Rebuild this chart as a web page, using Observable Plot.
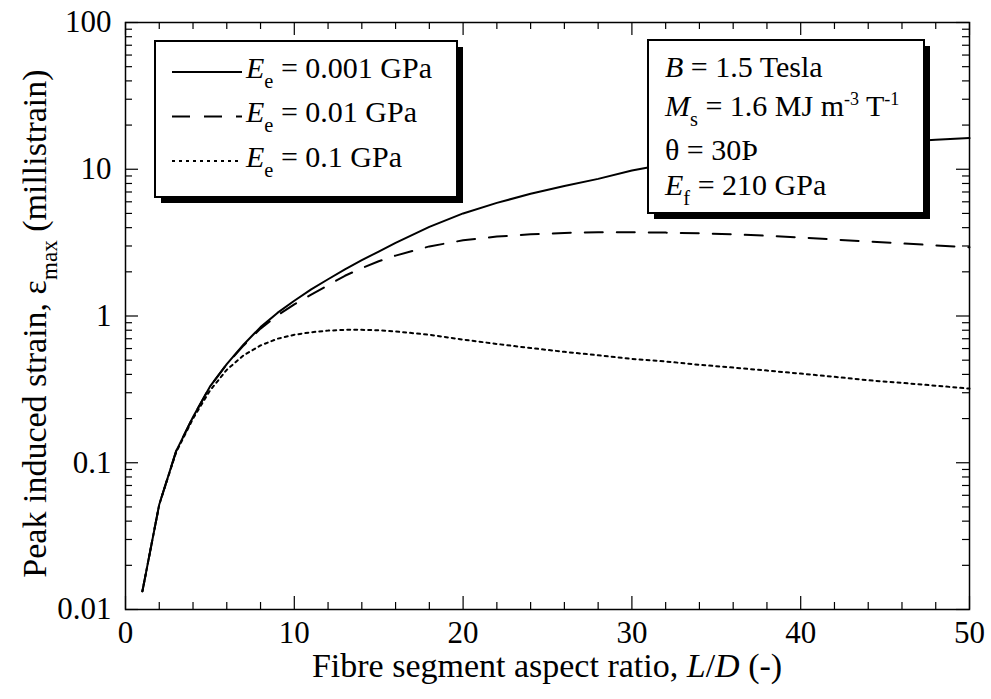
<!DOCTYPE html>
<html><head><meta charset="utf-8">
<script src="https://cdn.jsdelivr.net/npm/d3@7"></script>
<script src="https://cdn.jsdelivr.net/npm/@observablehq/plot@0.6"></script>
<style>
body{margin:0;background:#fff}
svg text, svg tspan { font-family: 'Liberation Serif' !important; }
</style>
</head><body><div id="chart"></div>
<script>
// ---- data ----
const aspectRatio = [1,2,3,4,5,6,7,8,9,10,11,12,13,14,15,16,18,20,22,24,26,28,30,32,34,36,38,40,42,44,46,48,50];
const strainEe0001 = [0.0133,0.052,0.12,0.205,0.33,0.47,0.64,0.84,1.05,1.27,1.52,1.78,2.08,2.4,2.75,3.15,4.05,5.0,5.9,6.8,7.7,8.6,9.8,10.8,11.7,12.5,13.2,13.8,14.4,14.9,15.4,15.9,16.3];
const strainEe001  = [0.0133,0.052,0.12,0.205,0.33,0.47,0.63,0.82,1.01,1.2,1.4,1.62,1.88,2.12,2.36,2.58,2.98,3.28,3.48,3.6,3.68,3.72,3.72,3.70,3.66,3.6,3.52,3.43,3.32,3.22,3.12,3.03,2.94];
const strainEe01   = [0.0133,0.052,0.118,0.2,0.31,0.43,0.54,0.63,0.70,0.745,0.775,0.795,0.805,0.805,0.8,0.785,0.745,0.69,0.645,0.605,0.57,0.54,0.51,0.49,0.465,0.445,0.425,0.405,0.385,0.365,0.35,0.335,0.32];
const xMajorTicks = [0,10,20,30,40,50];
const xTickLabels = ["0","10","20","30","40","50"];
const xMinorTicks = [2,4,6,8,12,14,16,18,22,24,26,28,32,34,36,38,42,44,46,48];
const yMajorTicks = [0.01,0.1,1,10,100];
const yTickLabels = ["0.01","0.1","1","10","100"];
const yMinorTicks = [0.01,0.1,1,10].flatMap(d => [2,3,4,5,6,7,8,9].map(k => +(k*d).toPrecision(3)));

const series = [
  {name:"0.001", values: strainEe0001, dash: null},
  {name:"0.01",  values: strainEe001,  dash: "18,14"},
  {name:"0.1",   values: strainEe01,   dash: "3,4"}
];

// ---- layout ----
const W = 991, H = 699, mL = 125, mR = 22, mT = 22, mB = 90;
const iW = W - mL - mR, iH = H - mT - mB;
const FONT = "Liberation Serif";
const majorLen = 13, minorLen = 7;

function forceFont(node) {
  node.setAttribute("font-family", FONT);
  node.style.setProperty("font-family", "'Liberation Serif'", "important");
}

const lineMarks = series.map(s => Plot.line(aspectRatio.map((L,i) => ({L, v: s.values[i]})), {
  x: "L", y: "v", stroke: "black", strokeWidth: 2, strokeDasharray: s.dash
}));

const chart = Plot.plot({
  width: W, height: H,
  marginLeft: mL, marginRight: mR, marginTop: mT, marginBottom: mB,
  x: {domain: [0, 50], axis: null},
  y: {type: "log", domain: [0.01, 100], axis: null},
  marks: [
    Plot.tickX(xMajorTicks, {x: d => d, insetTop: iH - majorLen, stroke: "black", strokeWidth: 1.2}),
    Plot.tickX(xMinorTicks, {x: d => d, insetTop: iH - minorLen, stroke: "black", strokeWidth: 1.2}),
    Plot.tickX(xMajorTicks, {x: d => d, insetBottom: iH - majorLen, stroke: "black", strokeWidth: 1.2}),
    Plot.tickX(xMinorTicks, {x: d => d, insetBottom: iH - minorLen, stroke: "black", strokeWidth: 1.2}),
    Plot.tickY(yMajorTicks, {y: d => d, insetRight: iW - majorLen, stroke: "black", strokeWidth: 1.2}),
    Plot.tickY(yMinorTicks, {y: d => d, insetRight: iW - minorLen, stroke: "black", strokeWidth: 1.2}),
    Plot.tickY(yMajorTicks, {y: d => d, insetLeft: iW - majorLen, stroke: "black", strokeWidth: 1.2}),
    Plot.tickY(yMinorTicks, {y: d => d, insetLeft: iW - minorLen, stroke: "black", strokeWidth: 1.2}),
    ...lineMarks,
    Plot.frame({stroke: "black", strokeWidth: 1.5}),
    Plot.text(xMajorTicks, {x: d => d, frameAnchor: "bottom", lineAnchor: "top", dy: 11,
      text: (d, i) => xTickLabels[i], fontSize: 31, fontFamily: FONT, fontVariant: "normal", fill: "black"}),
    Plot.text(yMajorTicks, {y: d => d, frameAnchor: "left", textAnchor: "end", dx: -14,
      text: (d, i) => yTickLabels[i], fontSize: 31, fontFamily: FONT, fontVariant: "normal", fill: "black"})
  ]
});
chart.style.setProperty("font-family", "'Liberation Serif'", "important");
document.getElementById("chart").appendChild(chart);
d3.select(chart).selectAll("text").each(function() { forceFont(this); });

// ---- annotations: axis titles, legend and parameter box ----
const svg = d3.select(chart);
const g = svg.append("g").attr("fill", "black");

function richText(parent, x, y, parts, size, anchor = "start") {
  const grp = parent.append("g");
  let cx = 0;
  parts.forEach(p => {
    const fs = p.sub ? size * 0.68 : p.sup ? size * 0.6 : size;
    const dy = p.sub ? size * 0.32 : p.sup ? -size * 0.38 : 0;
    const t = grp.append("text").attr("x", cx).attr("y", dy).attr("font-size", fs)
      .attr("text-anchor", "start").style("white-space", "pre").text(p.t);
    forceFont(t.node());
    if (p.i) t.attr("font-style", "italic");
    cx += t.node().getComputedTextLength();
  });
  const shift = anchor === "middle" ? -cx / 2 : 0;
  grp.attr("transform", `translate(${x + shift},${y})`);
  return grp;
}

// x title
richText(g, mL + iW / 2, 677, [
  {t: "Fibre segment aspect ratio, "}, {t: "L", i: true}, {t: "/"}, {t: "D", i: true}, {t: " (-)"}
], 34, "middle");

// y title (rotated)
const yg = g.append("g").attr("transform", `translate(46,${mT + iH / 2 + 8}) rotate(-90)`);
richText(yg, 0, 0, [
  {t: "Peak induced strain, ε"}, {t: "max", sub: true}, {t: " (millistrain)"}
], 34, "middle");

function box(x, y, w, h) {
  g.append("rect").attr("x", x + 6).attr("y", y + 6).attr("width", w).attr("height", h).attr("fill", "black");
  g.append("rect").attr("x", x).attr("y", y).attr("width", w).attr("height", h)
    .attr("fill", "white").attr("stroke", "black").attr("stroke-width", 2);
}

// legend
box(155, 41, 302, 156);
const legY = [72, 116.5, 161];
const legBase = [78, 122, 167];
series.forEach((s, i) => {
  g.append("line").attr("x1", 172).attr("x2", 242).attr("y1", legY[i]).attr("y2", legY[i])
    .attr("stroke", "black").attr("stroke-width", 2).attr("stroke-dasharray", s.dash);
  richText(g, 246, legBase[i], [
    {t: "E", i: true}, {t: "e", sub: true}, {t: " = " + s.name + " GPa"}
  ], 30);
});

// parameter box
box(648, 40, 276, 173);
richText(g, 665, 77, [{t: "B", i: true}, {t: " = 1.5 Tesla"}], 30);
richText(g, 665, 116, [
  {t: "M", i: true}, {t: "s", sub: true}, {t: " = 1.6 MJ m"},
  {t: "-3", sup: true}, {t: " T"}, {t: "-1", sup: true}
], 30);
richText(g, 665, 160, [{t: "θ = 30Þ"}], 30);
richText(g, 665, 195, [{t: "E", i: true}, {t: "f", sub: true}, {t: " = 210 GPa"}], 30);
</script>
</body></html>
